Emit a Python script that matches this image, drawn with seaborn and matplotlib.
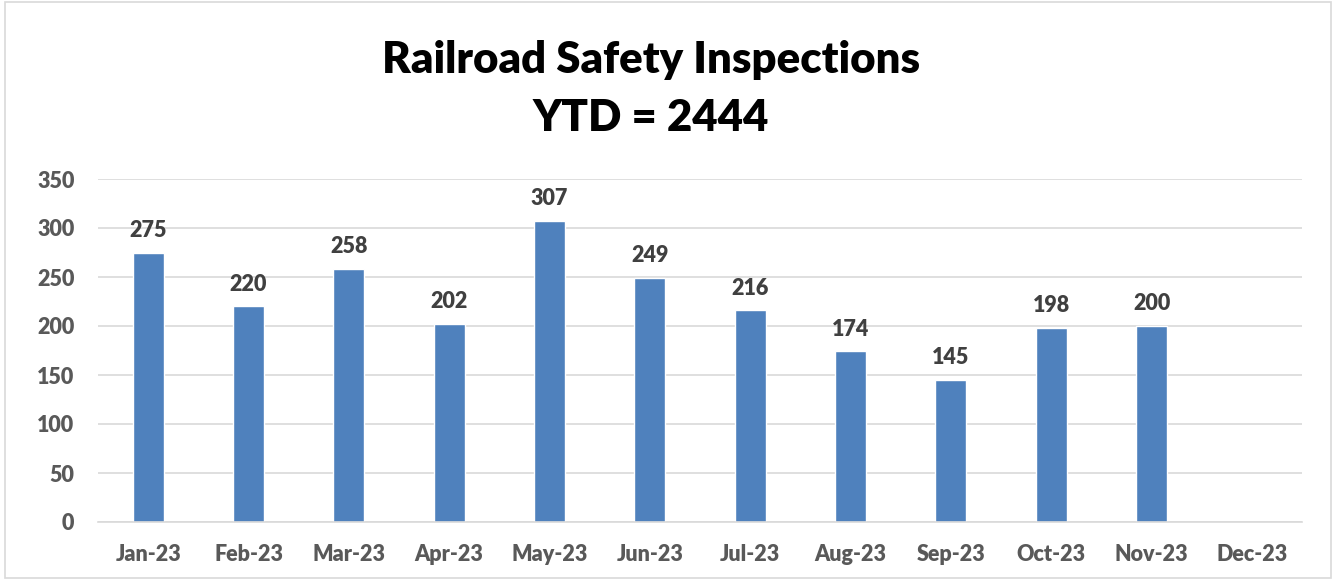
import numpy as np
import pandas as pd
import matplotlib
matplotlib.use("Agg")
import matplotlib.pyplot as plt
import seaborn as sns

months = ["Jan-23", "Feb-23", "Mar-23", "Apr-23", "May-23", "Jun-23",
          "Jul-23", "Aug-23", "Sep-23", "Oct-23", "Nov-23", "Dec-23"]
inspections = [275, 220, 258, 202, 307, 249, 216, 174, 145, 198, 200, np.nan]
ytd_total = 2444

df = pd.DataFrame({"month": months, "inspections": inspections})

sns.set_style("white")
plt.rcParams["font.family"] = ["Lato", "DejaVu Sans"]
W = "heavy"

fig = plt.figure(figsize=(13.38, 5.8), dpi=100)
ax = fig.add_axes([98 / 1338, (580 - 522) / 580, 1204 / 1338, (522 - 179) / 580])

sns.barplot(data=df, x="month", y="inspections", color="#4f81bd",
            width=0.31, saturation=1, ax=ax)

for i, v in enumerate(inspections):
    if not np.isnan(v):
        ax.text(i, v + 12, f"{int(v)}", ha="center", va="bottom",
                fontsize=15.5, fontweight=W, color="#404040")

ax.set_ylim(0, 350)
ax.set_yticks(range(0, 351, 50))
ax.set_xlim(-0.5, 11.5)
ax.yaxis.grid(True, color="#d9d9d9", linewidth=1.2)
ax.set_axisbelow(True)
ax.set_xlabel("")
ax.set_ylabel("")
for s in ["top", "right", "left"]:
    ax.spines[s].set_visible(False)
ax.spines["bottom"].set_color("#d9d9d9")
ax.spines["bottom"].set_linewidth(1.2)

# category boundary ticks like the spreadsheet axis
ax.set_xticks(np.arange(-0.5, 12, 1), minor=True)
ax.tick_params(axis="x", which="minor", length=6, color="#d9d9d9", width=1.2)
ax.tick_params(axis="x", which="major", length=0, pad=16)
ax.tick_params(axis="y", length=0, pad=17)
for lbl in ax.get_xticklabels() + ax.get_yticklabels():
    lbl.set_fontsize(15.5)
    lbl.set_fontweight(W)
    lbl.set_color("#595959")

fig.text(0.4865, 0.897, "Railroad Safety Inspections", ha="center", va="center",
         fontsize=31.5, fontweight=W, color="black")
fig.text(0.4865, 0.797, f"YTD = {ytd_total}", ha="center", va="center",
         fontsize=31.5, fontweight=W, color="black")

border = plt.Rectangle((5 / 1338, 2 / 580), 1326 / 1338, 576 / 580,
                       transform=fig.transFigure, fill=False,
                       edgecolor="#d9d9d9", linewidth=1.2)
fig.patches.append(border)

fig.savefig("out.png", dpi=100)
